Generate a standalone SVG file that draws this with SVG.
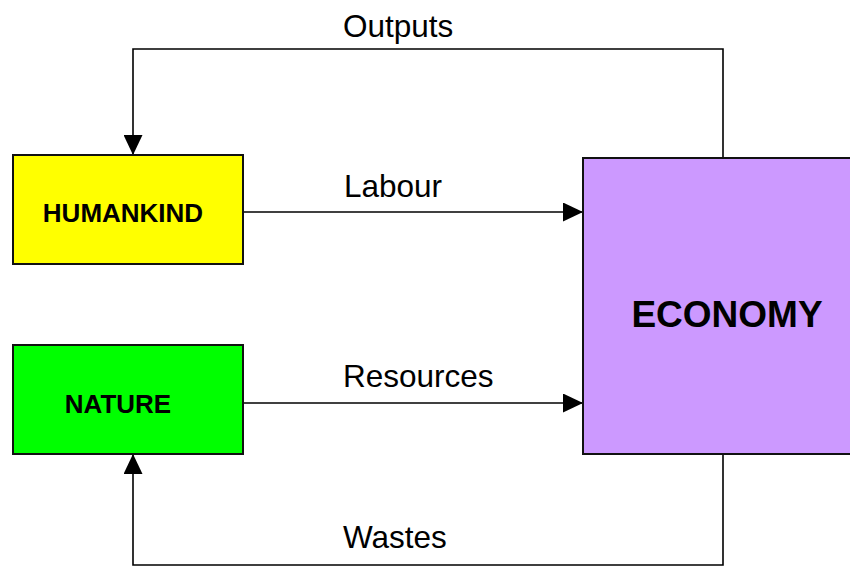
<svg xmlns="http://www.w3.org/2000/svg" width="850" height="566" viewBox="0 0 850 566">
  <style>
    .box { stroke: #111; stroke-width: 2; }
    .name { font-family: "Liberation Sans", Arial, sans-serif; font-weight: bold; fill: #000; text-anchor: middle; }
    .flow { fill: none; stroke: #000; stroke-width: 1.6; }
    .label { font-family: "Liberation Sans", Arial, sans-serif; font-size: 31.5px; fill: #000; }
  </style>
  <defs>
    <marker id="arrow" viewBox="0 0 20 19" markerWidth="20" markerHeight="19" refX="20" refY="9.5" orient="auto" markerUnits="userSpaceOnUse">
      <path d="M0,0 L20,9.5 L0,19 Z" fill="#000"/>
    </marker>
  </defs>

  <rect width="850" height="566" fill="#fff"/>

  <g id="connectors">
    <path class="flow" d="M723,158 V49 H133 V155" marker-end="url(#arrow)"/>
    <path class="flow" d="M243,212 H583" marker-end="url(#arrow)"/>
    <path class="flow" d="M243,403 H583" marker-end="url(#arrow)"/>
    <path class="flow" d="M723,454 V565 H133 V454" marker-end="url(#arrow)"/>
    <text class="label" x="343" y="37">Outputs</text>
    <text class="label" x="344" y="197">Labour</text>
    <text class="label" x="343" y="387">Resources</text>
    <text class="label" x="343" y="548">Wastes</text>
  </g>

  <g id="humankind">
    <rect class="box" x="13" y="155" width="230" height="109" fill="#FFFF00"/>
    <text class="name" x="123" y="221.5" font-size="26">HUMANKIND</text>
  </g>

  <g id="nature">
    <rect class="box" x="13" y="345" width="230" height="109" fill="#00FF00"/>
    <text class="name" x="118" y="413" font-size="26">NATURE</text>
  </g>

  <g id="economy">
    <rect class="box" x="583" y="158" width="280" height="296" fill="#CC99FF"/>
    <text class="name" x="727" y="327" font-size="37">ECONOMY</text>
  </g>
</svg>
